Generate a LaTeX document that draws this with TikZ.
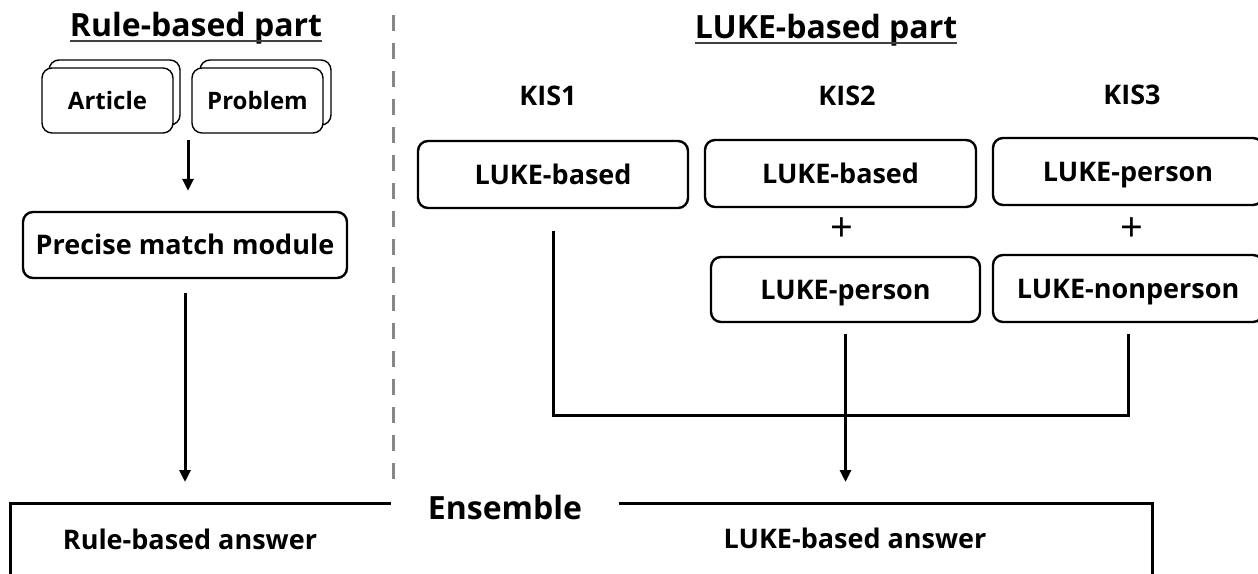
\documentclass[tikz,border=0pt]{standalone}
\usepackage{fontspec}
\setmainfont{Open Sans}
\usetikzlibrary{arrows.meta}

\newcommand\titlefont{\fontsize{32}{36}\selectfont\bfseries}
\newcommand\boxfont{\fontsize{27}{31}\selectfont\bfseries}
\newcommand\docfont{\fontsize{24}{28}\selectfont\bfseries}

\begin{document}
\begin{tikzpicture}[x=1pt,y=-1pt,
  title/.style={inner sep=0pt, anchor=base, font=\titlefont},
  ul/.style={line width=2pt, black!75},
  label/.style={inner sep=0pt, anchor=base, font=\boxfont},
  module/.style={draw, rounded corners=10pt, line width=2.4pt, fill=white,
    inner sep=0pt, text height=19.5pt, text depth=0pt, font=\boxfont,
    minimum height=66pt},
  doc/.style={draw, rounded corners=10pt, line width=1.4pt, fill=white,
    inner sep=0pt, text height=17pt, text depth=0pt, font=\docfont,
    minimum width=131pt, minimum height=65pt},
  plus/.style={inner sep=0pt, font=\fontsize{40}{40}\selectfont\mdseries},
  link/.style={line width=3pt},
  flow/.style={line width=3pt, -{Triangle[length=12pt,width=11pt]}},
  divider/.style={line width=3pt, black!47, dash pattern=on 16pt off 12pt},
  frame/.style={line width=3pt}]

\useasboundingbox (0,0) rectangle (1258,573);

% section titles
\node[title] (rtitle) at (196,36) {Rule-based part};
\draw[ul] ([yshift=-5pt]rtitle.base west) -- ([yshift=-5pt]rtitle.base east);
\node[title] (ltitle) at (826,38) {LUKE-based part};
\draw[ul] ([yshift=-5pt]ltitle.base west) -- ([yshift=-5pt]ltitle.base east);

% divider between the two parts
\coordinate (dtop) at (393,15);
\coordinate (dbot) at (393,482);
\draw[divider] (dtop) -- (dbot);

% rule-based part: stacked input documents
\node[doc] (artback) at (114.5,92.5) {};
\node[doc] (art) at (107.5,100.5) {Article};
\node[doc] (probback) at (265.5,92.5) {};
\node[doc] (prob) at (257.5,100.5) {Problem};

\node[module, minimum width=324pt] (prec) at (185,245) {Precise match module};
\coordinate (docout) at (188,140);
\draw[flow, shorten >=20pt] (docout) -- (docout |- prec.north);

% LUKE-based part: three systems
\node[label] (kis1) at (548,105) {KIS1};
\node[label] (kis2) at (847,105) {KIS2};
\node[label] (kis3) at (1132,104) {KIS3};

\node[module, minimum width=270pt, minimum height=67pt] (k1) at (553,174.5) {LUKE-based};
\node[module, minimum width=271pt, minimum height=67pt] (k2a) at (840.5,173.5) {LUKE-based};
\node[module, minimum width=270pt, minimum height=67pt] (k3a) at (1128,171.5) {LUKE-person};
\node[plus] (p2) at (842,230) {+};
\node[plus] (p3) at (1132,230) {+};
\node[module, minimum width=269pt, minimum height=65pt] (k2b) at (845.5,289.5) {LUKE-person};
\node[module, minimum width=270pt, minimum height=67pt] (k3b) at (1128,288.5) {LUKE-nonperson};

% ensemble frame, open at the bottom
\node[inner sep=0pt, inner xsep=37pt, anchor=base, font=\titlefont] (ens) at (505,519) {Ensemble};
\coordinate (eTL) at (10,503);
\coordinate (eTR) at (1152,503);
\coordinate (eBL) at (10,600);
\coordinate (eBR) at (1152,600);
\draw[frame] (eBL) -- (eTL) -- (ens.west |- eTL);
\draw[frame] (ens.east |- eTL) -- (eTR) -- (eBR);
\node[label] (ransw) at (190,549) {Rule-based answer};
\node[label] (lansw) at (855,548) {LUKE-based answer};

% connectors
\draw[flow, shorten <=14pt, shorten >=21pt] (prec.south) -- (prec.south |- eTL);
\coordinate (jn) at (843,415);
\draw[link] ([yshift=-22pt]k1.south) -- (k1.south |- jn) -- (k3b.south |- jn) -- ([yshift=-11pt]k3b.south);
\draw[flow, shorten <=11pt, shorten >=21pt] (k2b.south) -- (k2b.south |- eTL);

\end{tikzpicture}
\end{document}
